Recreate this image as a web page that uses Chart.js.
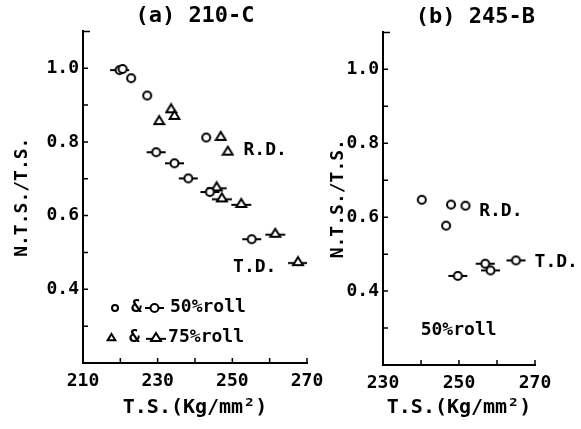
<!DOCTYPE html>
<html>
<head>
<meta charset="utf-8">
<script src="https://cdn.jsdelivr.net/npm/chart.js@4.4.0/dist/chart.umd.min.js"></script>
<style>
  html, body { margin: 0; padding: 0; background: #fff; }
  #wrap { position: relative; width: 581px; height: 429px; }
  .box { position: absolute; top: 0; height: 429px; }
</style>
</head>
<body>
<div id="wrap">
  <div class="box" style="left:0;width:325px"><canvas id="chartA"></canvas></div>
  <div class="box" style="left:325px;width:256px"><canvas id="chartB"></canvas></div>
</div>
<script>
const FONT = "'DejaVu Sans Mono', monospace";

// (a) 210-C
const rd50A_x = [220.6, 222.9, 227.2, 243.0];
const rd50A_y = [0.998, 0.973, 0.926, 0.812];
const rd75A_x = [230.4, 233.6, 234.5, 246.9, 248.8];
const rd75A_y = [0.858, 0.890, 0.872, 0.815, 0.775];
const td50A_x = [219.8, 229.6, 234.5, 238.2, 244.0, 255.2];
const td50A_y = [0.995, 0.772, 0.742, 0.701, 0.664, 0.536];
const td75A_x = [245.8, 247.2, 252.4, 261.5, 267.6];
const td75A_y = [0.678, 0.648, 0.633, 0.552, 0.475];

// (b) 245-B
const rd50B_x = [240.2, 246.6, 247.9, 251.7];
const rd50B_y = [0.647, 0.577, 0.634, 0.631];
const td50B_x = [249.7, 256.9, 258.3, 265.0];
const td50B_y = [0.441, 0.474, 0.456, 0.483];

// tick labels
const yLabels = [0.4, 0.6, 0.8, 1.0];
const xLabelsA = [210, 230, 250, 270];
const xLabelsB = [230, 250, 270];

function pts(xs, ys) {
    return xs.map((x, i) => ({ x: x, y: ys[i] }));
}

function makeSymbol(shape, bar, r) {
    const w = bar ? 2 * r + 13 : 2 * r + 4;
    const h = 2 * r + 4;
    const c = document.createElement('canvas');
    c.width = w;
    c.height = h;
    const ctx = c.getContext('2d');
    const cx = w / 2, cy = h / 2;
    ctx.strokeStyle = '#000';
    ctx.fillStyle = '#fff';
    ctx.lineWidth = 2;
    if (bar) {
        const by = shape === 'tri' ? cy + r * 0.3 : cy;
        ctx.beginPath();
        ctx.moveTo(1, by);
        ctx.lineTo(w - 1, by);
        ctx.stroke();
    }
    ctx.beginPath();
    if (shape === 'circle') {
        ctx.arc(cx, cy, r, 0, Math.PI * 2);
    } else {
        ctx.moveTo(cx, cy - r);
        ctx.lineTo(cx + r * 1.1, cy + r * 0.8);
        ctx.lineTo(cx - r * 1.1, cy + r * 0.8);
        ctx.closePath();
    }
    ctx.fill();
    ctx.stroke();
    return c;
}

const circ = makeSymbol('circle', false, 4);
const circBar = makeSymbol('circle', true, 4);
const tri = makeSymbol('tri', false, 4.5);
const triBar = makeSymbol('tri', true, 4.5);
const circSmall = makeSymbol('circle', false, 3);
const triSmall = makeSymbol('tri', false, 3.5);

function near(v, list) {
    return list.some(l => Math.abs(l - v) < 1e-6);
}

// inward tick marks, axis end hooks and the text written on the plot
const paperMarks = {
    id: 'paperMarks',
    afterDraw(chart, args, opts) {
        const ctx = chart.ctx;
        const xs = chart.scales.x, ys = chart.scales.y;
        const { left, right, top, bottom } = chart.chartArea;
        ctx.save();
        ctx.strokeStyle = '#000';
        ctx.lineWidth = 1.5;
        ctx.beginPath();
        ys.ticks.forEach(t => {
            if (t.value <= ys.min + 1e-6 || t.value >= ys.max - 1e-6) return;
            const py = ys.getPixelForValue(t.value);
            ctx.moveTo(left, py);
            ctx.lineTo(left + 5, py);
        });
        xs.ticks.forEach(t => {
            if (t.value <= xs.min + 1e-6 || t.value >= xs.max - 1e-6) return;
            const px = xs.getPixelForValue(t.value);
            ctx.moveTo(px, bottom);
            ctx.lineTo(px, bottom - 5);
        });
        ctx.moveTo(left, top);
        ctx.lineTo(left + 7, top);
        ctx.moveTo(right, bottom);
        ctx.lineTo(right, bottom - 5);
        ctx.stroke();

        ctx.fillStyle = '#000';
        ctx.textBaseline = 'middle';
        (opts.texts || []).forEach(t => {
            ctx.font = 'bold ' + t.size + 'px ' + FONT;
            ctx.textAlign = t.align || 'center';
            ctx.fillText(t.text, xs.getPixelForValue(t.x), ys.getPixelForValue(t.y));
        });
        (opts.symbols || []).forEach(s => {
            const px = xs.getPixelForValue(s.x), py = ys.getPixelForValue(s.y);
            ctx.drawImage(s.img, Math.round(px - s.img.width / 2), Math.round(py - s.img.height / 2));
        });
        ctx.restore();
    }
};

function buildScales(xMin, xMax, xShown, yWidth, xHeight, yTitlePad) {
    return {
        x: {
            type: 'linear',
            min: xMin,
            max: xMax,
            grid: { display: false, drawTicks: false },
            border: { display: true, color: '#000', width: 2 },
            ticks: {
                stepSize: 10,
                autoSkip: false,
                maxRotation: 0,
                padding: 8,
                color: '#000',
                font: { family: FONT, size: 18, weight: 'bold' },
                callback: v => near(v, xShown) ? String(v) : ''
            },
            title: {
                display: true,
                text: 'T.S.(Kg/mm²)',
                color: '#000',
                font: { family: FONT, size: 20, weight: 'bold' },
                padding: { top: 0, bottom: 9 }
            },
            afterFit: s => {
                s.height = xHeight;
                s.paddingLeft = 0;
                s.paddingRight = 0;
            }
        },
        y: {
            type: 'linear',
            min: 0.2,
            max: 1.1,
            grid: { display: false, drawTicks: false },
            border: { display: true, color: '#000', width: 2 },
            ticks: {
                stepSize: 0.1,
                autoSkip: false,
                padding: 4,
                color: '#000',
                font: { family: FONT, size: 18, weight: 'bold' },
                callback: v => near(v, yLabels) ? v.toFixed(1) : ''
            },
            title: {
                display: true,
                text: 'N.T.S./T.S.',
                color: '#000',
                font: { family: FONT, size: 18, weight: 'bold' },
                padding: { top: yTitlePad, bottom: 0 }
            },
            afterFit: s => {
                s.width = yWidth;
                s.paddingTop = 0;
                s.paddingBottom = 0;
            }
        }
    };
}

document.addEventListener('DOMContentLoaded', function () {
    new Chart(document.getElementById('chartA'), {
        type: 'scatter',
        data: {
            datasets: [
                { label: 'R.D. 50%', data: pts(rd50A_x, rd50A_y), pointStyle: circ, pointRadius: 5 },
                { label: 'R.D. 75%', data: pts(rd75A_x, rd75A_y), pointStyle: tri, pointRadius: 5 },
                { label: 'T.D. 50%', data: pts(td50A_x, td50A_y), pointStyle: circBar, pointRadius: 5 },
                { label: 'T.D. 75%', data: pts(td75A_x, td75A_y), pointStyle: triBar, pointRadius: 5 }
            ]
        },
        options: {
            responsive: true,
            maintainAspectRatio: false,
            animation: false,
            layout: { padding: { left: 0, right: 18, top: 0, bottom: 0 } },
            scales: buildScales(210, 270, xLabelsA, 83, 66, 12),
            plugins: {
                legend: { display: false },
                tooltip: { enabled: false },
                title: {
                    display: true,
                    text: '(a) 210-C',
                    fullSize: false,
                    color: '#000',
                    font: { family: FONT, size: 22, weight: 'bold' },
                    padding: { top: 3, bottom: 2 }
                },
                paperMarks: {
                    texts: [
                        { text: 'R.D.', x: 258.8, y: 0.777, size: 18 },
                        { text: 'T.D.', x: 256.0, y: 0.461, size: 18 },
                        { text: '&', x: 224.3, y: 0.350, size: 18 },
                        { text: '50%roll', x: 233.3, y: 0.350, size: 18, align: 'left' },
                        { text: '&', x: 223.8, y: 0.269, size: 18 },
                        { text: '75%roll', x: 232.8, y: 0.269, size: 18, align: 'left' }
                    ],
                    symbols: [
                        { img: circSmall, x: 218.6, y: 0.350 },
                        { img: circBar, x: 229.2, y: 0.350 },
                        { img: triSmall, x: 217.5, y: 0.269 },
                        { img: triBar, x: 229.6, y: 0.269 }
                    ]
                }
            }
        },
        plugins: [paperMarks]
    });

    new Chart(document.getElementById('chartB'), {
        type: 'scatter',
        data: {
            datasets: [
                { label: 'R.D. 50%', data: pts(rd50B_x, rd50B_y), pointStyle: circ, pointRadius: 5 },
                { label: 'T.D. 50%', data: pts(td50B_x, td50B_y), pointStyle: circBar, pointRadius: 5 }
            ]
        },
        options: {
            responsive: true,
            maintainAspectRatio: false,
            animation: false,
            layout: { padding: { left: 0, right: 46, top: 0, bottom: 0 } },
            scales: buildScales(230, 270, xLabelsB, 58, 64, 3),
            plugins: {
                legend: { display: false },
                tooltip: { enabled: false },
                title: {
                    display: true,
                    text: '(b) 245-B',
                    fullSize: false,
                    align: 'end',
                    color: '#000',
                    font: { family: FONT, size: 22, weight: 'bold' },
                    padding: { top: 4, bottom: 2 }
                },
                paperMarks: {
                    texts: [
                        { text: 'R.D.', x: 261.0, y: 0.615, size: 18 },
                        { text: 'T.D.', x: 275.6, y: 0.479, size: 18 },
                        { text: '50%roll', x: 249.9, y: 0.295, size: 18 }
                    ]
                }
            }
        },
        plugins: [paperMarks]
    });
});
</script>
</body>
</html>
